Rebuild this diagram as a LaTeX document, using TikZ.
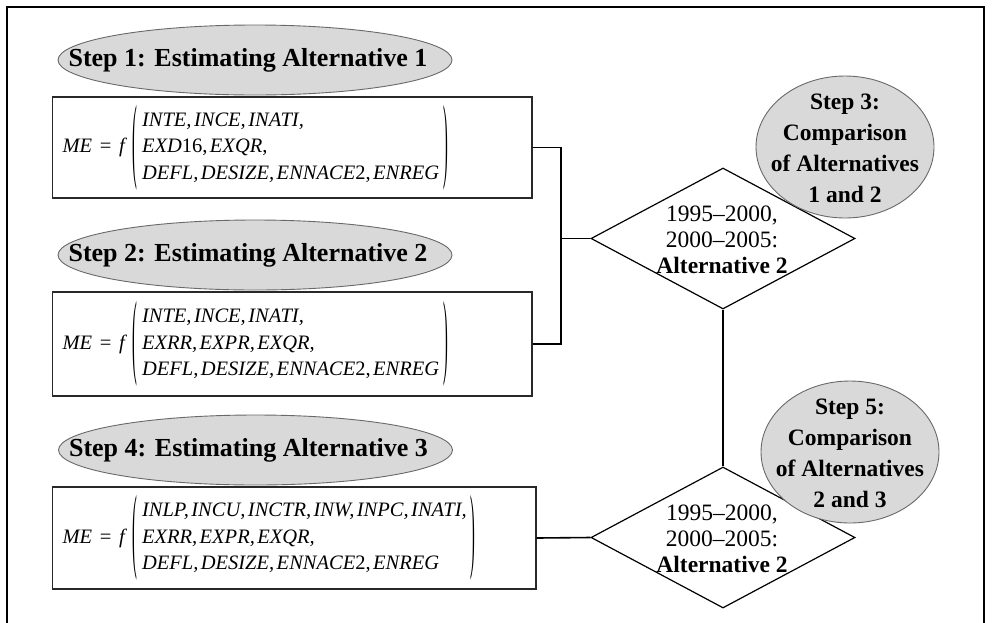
\documentclass[tikz,border=0pt]{standalone}
\usepackage{graphicx}
\usepackage{fontspec}
\setmainfont{Liberation Serif}
\usetikzlibrary{shapes.geometric}
\definecolor{ellfill}{RGB}{217,217,217}
\definecolor{elldraw}{RGB}{105,105,105}
\definecolor{boxdraw}{RGB}{40,40,40}
\newcommand{\cs}{,\hspace{0.12em}}
\newcommand{\bigpar}[1]{$\vcenter{\hbox{\scalebox{0.7}[4.6]{#1}}}$}
\newcommand{\mef}[3]{{\itshape ME}\hspace{0.38em}=\hspace{0.38em}{\itshape f}\hspace{0.35em}\bigpar{(}\hspace{0.25em}$\vcenter{\hbox{\renewcommand{\arraystretch}{1.1}\begin{tabular}{@{}l@{}}#1\\#2\\#3\end{tabular}}}$\hspace{0.2em}\bigpar{)}}
\tikzset{
  frameline/.style={line width=1.8pt},
  stepell/.style={ellipse, draw=elldraw, fill=ellfill, line width=0.9pt, minimum width=394pt, minimum height=70pt, inner sep=0pt},
  compell/.style={ellipse, draw=elldraw, fill=ellfill, line width=0.9pt, minimum width=178pt, minimum height=142pt, inner sep=0pt},
  steptxt/.style={font=\fontsize{26}{31}\selectfont\bfseries, inner sep=0pt},
  comptxt/.style={font=\fontsize{23.5}{31}\selectfont\bfseries, align=center, inner sep=0pt},
  eqbox/.style={rectangle, draw=boxdraw, line width=1.3pt, align=left, inner xsep=10pt, inner ysep=0pt, font=\fontsize{20.5}{24}\selectfont},
  decision/.style={diamond, draw, line width=1.2pt, minimum width=264pt, minimum height=141pt, inner sep=0pt},
  dectxt/.style={font=\fontsize{23.5}{26}\selectfont, align=center, inner sep=0pt},
  conn/.style={line width=1.6pt}
}
\begin{document}
\begin{tikzpicture}[x=1pt,y=-1pt]
\useasboundingbox (0,0) rectangle (992,622);
% outer frame
\draw[frameline] (7,640) -- (7,7) -- (984,7) -- (984,640);

% equation boxes
\node[eqbox, text width=459.5pt, minimum height=101pt] (b1) at (292.25,147.5)
  {\mef{\itshape INTE\cs INCE\cs INATI,}{{\itshape EXD}16\cs{\itshape EXQR},}{{\itshape DEFL\cs DESIZE\cs ENNACE}2\cs{\itshape ENREG}}};
\node[eqbox, text width=459.5pt, minimum height=104pt] (b2) at (292.25,344)
  {\mef{\itshape INTE\cs INCE\cs INATI,}{\itshape EXRR\cs EXPR\cs EXQR,}{{\itshape DEFL\cs DESIZE\cs ENNACE}2\cs{\itshape ENREG}}};
\node[eqbox, text width=463.5pt, minimum height=102pt] (b3) at (294.25,538)
  {\mef{\itshape INLP\cs INCU\cs INCTR\cs INW\cs INPC\cs INATI,}{\itshape EXRR\cs EXPR\cs EXQR,}{{\itshape DEFL\cs DESIZE\cs ENNACE}2\cs{\itshape ENREG}}};

% step ellipses
\node[stepell] (e1) at (255,60) {};
\node[steptxt] (t1) at (248,60) {Step 1: Estimating Alternative 1};
\node[stepell] (e2) at (255,255) {};
\node[steptxt] (t2) at (248,255) {Step 2: Estimating Alternative 2};
\node[stepell] (e4) at (255.5,450) {};
\node[steptxt] (t4) at (248.5,450) {Step 4: Estimating Alternative 3};

% decisions
\node[decision] (d1) at (723,238.5) {};
\node[decision] (d2) at (723,537.5) {};

% connectors
\coordinate (j) at (561,238.5);
\draw[conn] (b1.east) -| (j);
\draw[conn] (b2.east) -| (j);
\draw[conn] (j) -- (d1.west);
\draw[conn] (d1.south) -- (d2.north);
\draw[conn] (b3.east) -- (d2.west);

% comparison ellipses
\node[compell] (c3) at (845,147) {};
\node[comptxt] (ct3) at (845,148) {Step 3:\\Comparison\\of Alternatives\\1 and 2};
\node[compell] (c5) at (850,452) {};
\node[comptxt] (ct5) at (850,453) {Step 5:\\Comparison\\of Alternatives\\2 and 3};

% decision texts
\node[dectxt] (dt1) at (722,240) {1995--2000,\\2000--2005:\\\textbf{Alternative 2}};
\node[dectxt] (dt2) at (722,539) {1995--2000,\\2000--2005:\\\textbf{Alternative 2}};
\end{tikzpicture}
\end{document}
